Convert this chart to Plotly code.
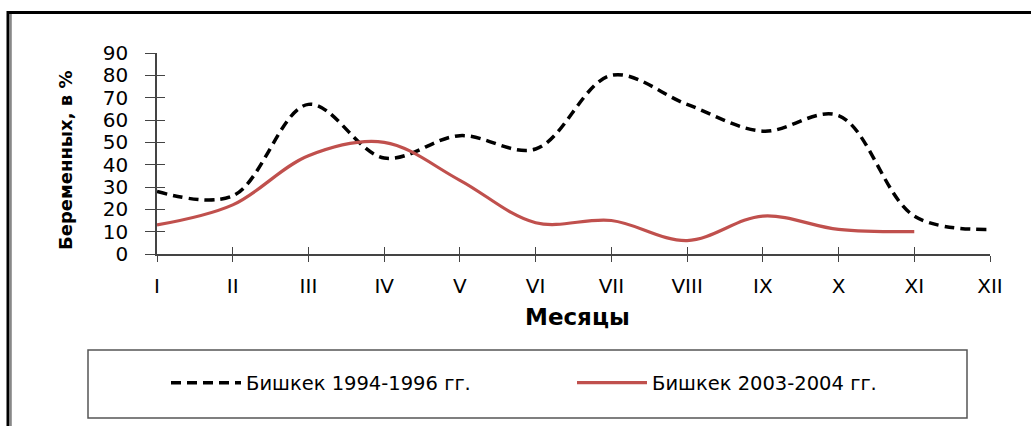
import plotly.graph_objects as go

months = ["I", "II", "III", "IV", "V", "VI", "VII", "VIII", "IX", "X", "XI", "XII"]
bishkek_1994_1996 = [28, 26, 67, 43, 53, 47, 80, 67, 55, 62, 17, 11]
bishkek_2003_2004 = [13, 22, 44, 50, 33, 14, 15, 6, 17, 11, 10]
y_ticks = [0, 10, 20, 30, 40, 50, 60, 70, 80, 90]

W, H = 1031, 426
L, R, T, B = 157, 990, 53, 254


def px(x):
    return (x - L) / (R - L)


def py(y):
    return (B - y) / (B - T)


FONT = "DejaVu Sans"
AX = "#444444"

fig = go.Figure()
fig.add_trace(go.Scatter(
    x=months, y=bishkek_1994_1996, mode="lines",
    name="Бишкек 1994-1996 гг.",
    line=dict(color="black", width=3.5, dash="10px,6px", shape="spline", smoothing=1),
    xaxis="x", yaxis="y",
))
fig.add_trace(go.Scatter(
    x=months[:len(bishkek_2003_2004)], y=bishkek_2003_2004, mode="lines",
    name="Бишкек 2003-2004 гг.",
    line=dict(color="#C0504D", width=3.2, shape="spline", smoothing=1),
    xaxis="x2", yaxis="y2",
))

common_x = dict(type="category", categoryorder="array", categoryarray=months,
                range=[0, 11], showgrid=False, zeroline=False, fixedrange=True)
common_y = dict(range=[0, 90], tickvals=y_ticks, showgrid=False, zeroline=False)

fig.update_layout(
    width=W, height=H,
    margin=dict(l=L, r=W - R, t=T, b=H - B, autoexpand=False),
    paper_bgcolor="white", plot_bgcolor="white",
    font=dict(family=FONT, color="black"),
    showlegend=True,
    xaxis=dict(**common_x, showline=True, linecolor=AX, linewidth=1.5,
               ticks="outside", ticklen=6, tickwidth=1.2, tickcolor=AX,
               tickfont=dict(family=FONT, size=20, color="black"),
               ticklabelstandoff=7),
    xaxis2=dict(**common_x, overlaying="x", showline=False, ticks="inside",
                ticklen=7, tickwidth=1.2, tickcolor=AX, showticklabels=False),
    yaxis=dict(**common_y, showline=True, linecolor=AX, linewidth=1.5,
               ticks="outside", ticklen=10, tickwidth=1.2, tickcolor=AX,
               tickfont=dict(family=FONT, size=20, color="black"),
               ticklabelstandoff=13),
    yaxis2=dict(**common_y, overlaying="y", showline=False, ticks="inside",
                ticklen=8, tickwidth=1.2, tickcolor=AX, showticklabels=False),
    legend=dict(orientation="h", x=px(166), y=py(383), xanchor="left", yanchor="middle",
                itemwidth=70, entrywidth=321, bgcolor="rgba(0,0,0,0)", borderwidth=0,
                font=dict(family=FONT, size=19.5, color="black"), tracegroupgap=0),
    annotations=[
        dict(text="<b>Беременных, в %</b>", xref="paper", yref="paper",
             x=px(65), y=py(160), textangle=-90, showarrow=False,
             font=dict(family=FONT, size=18, color="black"),
             xanchor="center", yanchor="middle"),
        dict(text="<b>Месяцы</b>", xref="paper", yref="paper",
             x=px(577), y=py(317), showarrow=False,
             font=dict(family=FONT, size=23, color="black"),
             xanchor="center", yanchor="middle"),
    ],
    shapes=[
        dict(type="line", xref="paper", yref="paper", x0=px(7), x1=px(1031), y0=py(12.5), y1=py(12.5),
             line=dict(color="black", width=3)),
        dict(type="line", xref="paper", yref="paper", x0=px(8), x1=px(8), y0=py(11), y1=py(426),
             line=dict(color="black", width=3)),
        dict(type="line", xref="paper", yref="paper", x0=px(10.8), x1=px(10.8), y0=py(14), y1=py(426),
             line=dict(color="#888888", width=2)),
        dict(type="rect", xref="paper", yref="paper", x0=px(88), x1=px(967), y0=py(418), y1=py(350),
             line=dict(color="#555555", width=1.5), fillcolor="rgba(0,0,0,0)"),
    ],
)

fig.write_html("out.html", config={"displayModeBar": False},
               post_script="document.body.style.margin='0px';document.body.style.overflow='hidden';")
